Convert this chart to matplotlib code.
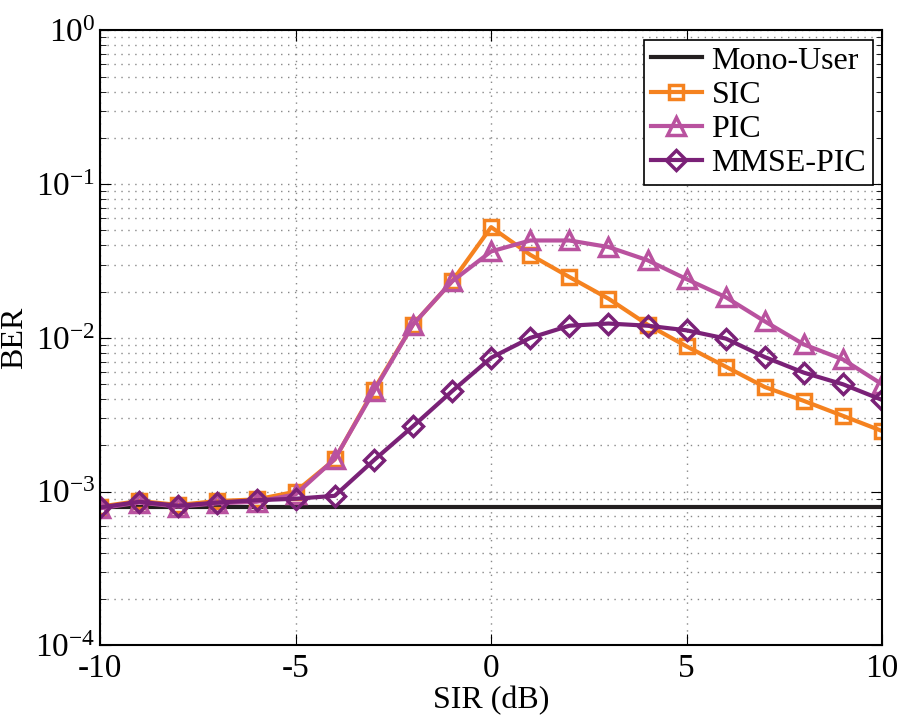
import numpy as np
import matplotlib.pyplot as plt

plt.rcParams['font.family'] = ['Liberation Serif', 'DejaVu Serif']
plt.rcParams['mathtext.fontset'] = 'stix'
plt.rcParams['axes.unicode_minus'] = False

## data
sir = np.arange(-10, 11)
mono_user = [7.9e-4] * len(sir)
sic = [8.0e-4, 8.7e-4, 8.2e-4, 8.7e-4, 8.9e-4, 1.0e-3, 1.62e-3, 4.6e-3, 1.22e-2, 2.33e-2,
       5.25e-2, 3.47e-2, 2.49e-2, 1.8e-2, 1.22e-2, 8.8e-3, 6.5e-3, 4.79e-3, 3.89e-3, 3.11e-3, 2.48e-3]
pic = [7.8e-4, 8.5e-4, 8.0e-4, 8.4e-4, 8.6e-4, 9.6e-4, 1.63e-3, 4.5e-3, 1.22e-2, 2.33e-2,
       3.65e-2, 4.3e-2, 4.3e-2, 3.9e-2, 3.2e-2, 2.41e-2, 1.84e-2, 1.28e-2, 9.06e-3, 7.24e-3, 4.99e-3]
mmse_pic = [7.9e-4, 8.6e-4, 8.1e-4, 8.5e-4, 8.8e-4, 9.0e-4, 9.4e-4, 1.6e-3, 2.66e-3, 4.5e-3,
            7.43e-3, 1.0e-2, 1.2e-2, 1.24e-2, 1.2e-2, 1.12e-2, 9.9e-3, 7.5e-3, 5.94e-3, 4.99e-3, 3.95e-3]

fig = plt.figure(figsize=(9.02, 7.22), dpi=100)
ax = fig.add_axes([0.111, 0.106, 0.867, 0.852])

ax.semilogy(sir, mono_user, color='#231f20', lw=3, label='Mono-User')
ax.semilogy(sir, sic, color='#f5821f', lw=3, marker='s', ms=10, mfc='none', mew=2.5, label='SIC')
ax.semilogy(sir, pic, color='#b9529f', lw=3, marker='^', ms=13, mfc='none', mew=2.5, label='PIC')
ax.semilogy(sir, mmse_pic, color='#7a2177', lw=3, marker='D', ms=10, mfc='none', mew=2.5, label='MMSE-PIC')

ax.set_xlim(-10, 10)
ax.set_ylim(1e-4, 1)
ax.set_xticks([-10, -5, 0, 5, 10])
ax.grid(True, which='major', ls=(0, (1, 4)), color='#888888', lw=1)
ax.grid(True, which='minor', axis='y', ls=(0, (1, 4)), color='#888888', lw=1)
ax.tick_params(which='both', direction='in', top=True, right=True, labelsize=24)
ax.tick_params(which='major', length=8)
ax.tick_params(which='minor', length=4)
ax.tick_params(axis='x', pad=6)
for s in ax.spines.values():
    s.set_linewidth(1.5)

ax.set_xlabel('SIR (dB)', fontsize=23, labelpad=1)
ax.set_ylabel('BER', fontsize=23, labelpad=4)

leg = ax.legend(loc='upper right', fontsize=23, fancybox=False, edgecolor='black',
                framealpha=1, handlelength=1.6, handletextpad=0.3, borderpad=0.2,
                labelspacing=0.15, borderaxespad=0.3)
leg.get_frame().set_linewidth(1.2)

plt.savefig('out.png', dpi=100)
